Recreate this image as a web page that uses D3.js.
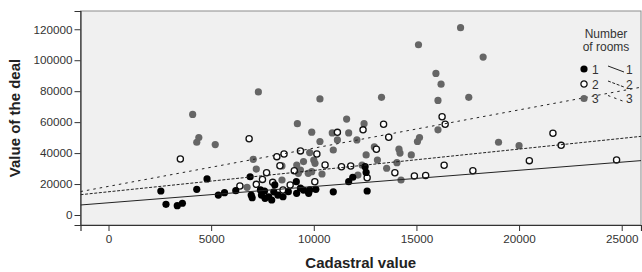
<!DOCTYPE html>
<html>
<head>
<meta charset="utf-8">
<script src="https://cdn.jsdelivr.net/npm/d3@7"></script>
<style>
  body { margin: 0; background: #fff; }
  text { font-family: "Liberation Sans", Arial, sans-serif; }
</style>
</head>
<body>
<svg id="chart" width="642" height="272"></svg>
<script>
// Number of rooms = 1 (black dots)
const rooms1 = [
  [2550, 15500], [2800, 6900], [3350, 6000], [3600, 7600], [4300, 16600],
  [4800, 23300], [5350, 12900], [5650, 14400], [6200, 15700], [6900, 24700],
  [6950, 12900], [7000, 11200], [7400, 16200], [7450, 12900], [7800, 11800],
  [8050, 15000], [8250, 12900], [8100, 19400], [7600, 15500], [8500, 11800],
  [9150, 21500], [9350, 17300], [9800, 16200], [9750, 14000], [10100, 16600],
  [10950, 15000], [12600, 15500], [11700, 21500], [11900, 24400], [12500, 31200],
  [9500, 16100], [12550, 27500], [7625, 10800], [7950, 9700], [8760, 15100],
  [9165, 14000]
];
// Number of rooms = 2 (open circles)
const rooms2 = [
  [13400, 58600], [16250, 63500], [16400, 58600], [11150, 53400], [12400, 55000],
  [13650, 50200], [6850, 49300], [13050, 42500], [13950, 27300], [14900, 25200],
  [15450, 25600], [16350, 32100], [17750, 28600], [20500, 35100], [21650, 52800],
  [22050, 45000], [24750, 35500], [12600, 24100], [11350, 31200], [11800, 31700],
  [10550, 32300], [3500, 36200], [8200, 37700], [8550, 39400], [9350, 41400],
  [8350, 31800], [7700, 27300], [7500, 23000], [9050, 28600], [10150, 39400],
  [6400, 18700], [7200, 19800], [8000, 21100], [8850, 19400], [8500, 16200],
  [10050, 21500]
];
// Number of rooms = 3 (grey dots)
const rooms3 = [
  [17150, 121000], [15100, 110000], [18250, 102000], [15950, 91500], [16200, 84500],
  [16050, 74000], [17550, 76000], [10300, 75000], [13300, 76000], [11600, 62000],
  [12450, 59000], [4100, 65000], [7300, 79500], [9200, 59000], [4400, 50000],
  [4300, 47000], [5200, 45500], [9900, 53500], [10900, 53000], [11700, 53000],
  [16050, 55000], [15150, 50000], [15050, 47500], [10300, 47500], [11150, 48500],
  [12100, 48500], [10950, 42000], [12950, 44000], [14150, 42500], [14200, 40000],
  [14750, 38800], [13100, 35500], [14050, 33800], [13550, 30200], [14250, 22600],
  [19000, 47000], [20000, 44800], [7050, 36000], [7200, 29700], [9500, 34500],
  [9800, 40300], [10000, 35500], [8450, 22600], [9350, 29000], [9900, 28000],
  [10400, 26500], [6750, 17900], [8450, 31700], [12350, 32300], [12150, 25800],
  [12550, 38800], [9250, 26900], [9730, 26900], [9170, 32300], [10060, 33400]
];
// fit lines: [intercept, slope]
const fits = [[7900, 1.05], [15000, 1.38], [18500, 2.47]];
const groupLabels = ['1', '2', '3'];
const xTicks = [0, 5000, 10000, 15000, 20000, 25000];
const yTicks = [0, 20000, 40000, 60000, 80000, 100000, 120000];

const svg = d3.select('#chart');
const margin = { left: 80.5, right: 1, top: 11, bottom: 47 };
const width = +svg.attr('width');
const height = +svg.attr('height');

const x = d3.scaleLinear().domain([-1364, 25940]).range([margin.left, width - margin.right]);
const y = d3.scaleLinear().domain([-6460, 131800]).range([height - margin.bottom, margin.top]);

// plot background + frame
svg.append('rect')
  .attr('x', margin.left).attr('y', margin.top)
  .attr('width', x.range()[1] - margin.left)
  .attr('height', y.range()[0] - margin.top)
  .attr('fill', '#f0f0f0')
  .attr('stroke', '#8c8c8c')
  .attr('stroke-width', 1);

svg.append('clipPath').attr('id', 'plotclip')
  .append('rect')
  .attr('x', margin.left).attr('y', margin.top)
  .attr('width', x.range()[1] - margin.left)
  .attr('height', y.range()[0] - margin.top);

// axes
const xAxis = svg.append('g')
  .attr('transform', `translate(0,${y.range()[0]})`)
  .call(d3.axisBottom(x).tickValues(xTicks).tickFormat(d3.format('d')).tickSize(6).tickPadding(4));
const yAxis = svg.append('g')
  .attr('transform', `translate(${margin.left},0)`)
  .call(d3.axisLeft(y).tickValues(yTicks).tickFormat(d3.format('d')).tickSize(6).tickPadding(2));

[xAxis, yAxis].forEach(a => {
  a.select('.domain').attr('stroke', '#333').attr('stroke-width', 1.2);
  a.selectAll('.tick line').attr('stroke', '#333');
  a.selectAll('.tick text').attr('fill', '#333').style('font-size', '11.7px')
    .style('font-family', '"Liberation Sans", Arial, sans-serif');
});

// points
const pts = svg.append('g').attr('clip-path', 'url(#plotclip)');
pts.selectAll('circle.g3').data(rooms3).enter().append('circle')
  .attr('class', 'g3')
  .attr('cx', d => x(d[0])).attr('cy', d => y(d[1])).attr('r', 3.6)
  .attr('fill', '#666');
pts.selectAll('circle.g2').data(rooms2).enter().append('circle')
  .attr('class', 'g2')
  .attr('cx', d => x(d[0])).attr('cy', d => y(d[1])).attr('r', 3.1)
  .attr('fill', '#fff').attr('stroke', '#111').attr('stroke-width', 1.3);
pts.selectAll('circle.g1').data(rooms1).enter().append('circle')
  .attr('class', 'g1')
  .attr('cx', d => x(d[0])).attr('cy', d => y(d[1])).attr('r', 3.6)
  .attr('fill', '#000');

// fit lines
const dashes = [null, '3,1.6', '2.5,4'];
const xd = x.domain();
fits.forEach((f, i) => {
  pts.append('line')
    .attr('x1', x(xd[0])).attr('y1', y(f[0] + f[1] * xd[0]))
    .attr('x2', x(xd[1])).attr('y2', y(f[0] + f[1] * xd[1]))
    .attr('stroke', '#222').attr('stroke-width', 1)
    .attr('stroke-dasharray', dashes[i]);
});

// axis titles
svg.append('text')
  .attr('x', (margin.left + x.range()[1]) / 2).attr('y', 268)
  .attr('text-anchor', 'middle')
  .style('font-size', '15px').style('font-weight', 'bold').attr('fill', '#222')
  .text('Cadastral value');
svg.append('text')
  .attr('transform', `translate(20,${(margin.top + y.range()[0]) / 2}) rotate(-90)`)
  .attr('text-anchor', 'middle')
  .style('font-size', '15px').style('font-weight', 'bold').attr('fill', '#222')
  .text('Value of the deal');

// legend
const lg = svg.append('g').attr('transform', 'translate(584,0)');
lg.append('text').attr('x', 22).attr('y', 38).attr('text-anchor', 'middle')
  .style('font-size', '12px').attr('fill', '#333').text('Number');
lg.append('text').attr('x', 22).attr('y', 51).attr('text-anchor', 'middle')
  .style('font-size', '12px').attr('fill', '#333').text('of rooms');

const rowY = [69, 84, 98.5];
groupLabels.forEach((lab, i) => {
  const row = lg.append('g').attr('transform', `translate(0,${rowY[i]})`);
  const c = row.append('circle').attr('r', 3.6);
  if (i === 0) c.attr('fill', '#000');
  if (i === 1) c.attr('r', 3.1).attr('fill', '#fff').attr('stroke', '#111').attr('stroke-width', 1.3);
  if (i === 2) c.attr('fill', '#666');
  row.append('text').attr('x', 8).attr('y', 4.5).style('font-size', '12px').attr('fill', '#333').text(lab);
  row.append('line').attr('x1', 24).attr('y1', -3).attr('x2', 40).attr('y2', 3)
    .attr('stroke', '#222').attr('stroke-width', 1).attr('stroke-dasharray', dashes[i]);
  row.append('text').attr('x', 42).attr('y', 4.5).style('font-size', '12px').attr('fill', '#333').text(lab);
});
</script>
</body>
</html>
